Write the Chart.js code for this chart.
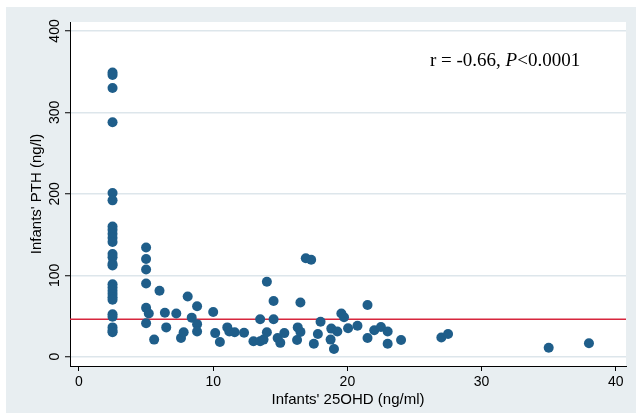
<!DOCTYPE html>
<html><head><meta charset="utf-8">
<script src="https://cdn.jsdelivr.net/npm/chart.js@4.4.0/dist/chart.umd.min.js"></script>
<style>html,body{margin:0;padding:0;background:#fff;}</style>
</head><body>
<canvas id="c" width="636" height="418"></canvas>
<script>
// ---- data ----
const xValues = [
  2.5,2.5,2.5,2.5,2.5,2.5,2.5,2.5,2.5,2.5,2.5,2.5,2.5,2.5,2.5,2.5,2.5,2.5,2.5,2.5,2.5,2.5,2.5,2.5,2.5,2.5,
  5.0,5.0,5.0,5.0,5.0,5.0,5.2,5.6,6.0,6.4,6.5,7.25,7.6,7.8,8.1,8.4,8.8,8.8,8.8,
  10.0,10.15,10.5,11.05,11.2,11.6,12.3,13.0,13.5,13.75,13.5,14.0,14.0,14.5,14.5,14.8,15.0,15.3,
  16.25,16.3,16.5,16.5,16.9,17.3,17.5,17.8,18.0,18.75,18.8,19.0,19.25,19.55,19.75,20.05,20.75,
  21.5,21.5,22.0,22.5,23.0,23.0,24.0,27.0,27.5,35.0,38.0
];
const yValues = [
  349,346,330,288,201,192,160,156,151,146,141,126,122,114,112,89,85,81,77,73,70,52,49,36,32,30,
  134,120,107,90,60,41,53,21,81,54,36,53,23,30,74,48,62,40,31,
  55,29,18,36,31,30,29.5,19,19,21,46,92,30,68.5,46,23,17,29,
  20.5,36,30.5,66.5,121,119,16,28,43,21,34.5,9.5,31,53,48.5,35,38,
  63.5,23,32.5,36.5,31,16,20.5,23.5,28,11,16.5
];
const xTicks = [0, 10, 20, 30, 40];
const yTicks = [0, 100, 200, 300, 400];
const refLineValue = 46;
const xTitle = "Infants' 25OHD (ng/ml)";
const yTitle = "Infants' PTH (ng/l)";
const noteParts = [["r = -0.66, ", false], ["P", true], ["<0.0001", false]];

const SANS = '"Liberation Sans", Arial, sans-serif';
const SERIF = '"Liberation Serif", "Times New Roman", serif';

const bgPlugin = {
  id: 'bg',
  beforeDraw(chart) {
    const {ctx, chartArea: a} = chart;
    ctx.save();
    ctx.fillStyle = '#e8eef1';
    ctx.fillRect(6, 7, 630, 406);
    ctx.fillStyle = '#ffffff';
    ctx.fillRect(a.left, a.top, a.right - a.left, a.bottom - a.top);
    ctx.restore();
  },
  beforeDatasetsDraw(chart) {
    const {ctx, chartArea: a, scales} = chart;
    const y = scales.y.getPixelForValue(refLineValue);
    ctx.save();
    ctx.strokeStyle = '#d7263d';
    ctx.lineWidth = 1.5;
    ctx.beginPath();
    ctx.moveTo(a.left, y);
    ctx.lineTo(a.right, y);
    ctx.stroke();
    ctx.restore();
  },
  afterDraw(chart) {
    const {ctx, scales} = chart;
    ctx.save();
    ctx.fillStyle = '#000';
    ctx.font = '14px ' + SANS;
    ctx.textAlign = 'center';
    ctx.textBaseline = 'alphabetic';
    yTicks.forEach(v => {
      const py = scales.y.getPixelForValue(v);
      ctx.save();
      ctx.translate(59, py);
      ctx.rotate(-Math.PI / 2);
      ctx.fillText(String(v), 0, 0);
      ctx.restore();
    });
    // annotation
    ctx.textAlign = 'left';
    let x = 430;
    noteParts.forEach(([t, it]) => {
      ctx.font = (it ? 'italic ' : '') + '19px ' + SERIF;
      ctx.fillText(t, x, 66);
      x += ctx.measureText(t).width;
    });
    ctx.restore();
  }
};

new Chart(document.getElementById('c'), {
  type: 'scatter',
  data: {
    datasets: [{
      data: xValues.map((x, i) => ({x, y: yValues[i]})),
      backgroundColor: '#1f5e8a',
      borderColor: '#1f5e8a',
      borderWidth: 0,
      pointRadius: 5,
      pointHoverRadius: 5
    }]
  },
  options: {
    responsive: false,
    animation: false,
    devicePixelRatio: 1,
    layout: {padding: {left: 0, right: 10, top: 22, bottom: 0}},
    plugins: {legend: {display: false}, tooltip: {enabled: false}},
    scales: {
      x: {
        type: 'linear',
        min: -0.67, max: 40.76,
        afterBuildTicks: s => { s.ticks = xTicks.map(v => ({value: v})); },
        afterFit: s => { s.height = 52; },
        grid: {drawOnChartArea: false, drawTicks: true, tickLength: 5, tickColor: '#000', tickWidth: 1},
        border: {color: '#000', width: 1},
        ticks: {color: '#000', font: {family: SANS, size: 14}, padding: 3, maxRotation: 0, autoSkip: false},
        title: {display: true, text: xTitle, color: '#000', font: {family: SANS, size: 15}, padding: {top: 0, bottom: 9}}
      },
      y: {
        type: 'linear',
        min: -11.4, max: 411,
        afterBuildTicks: s => { s.ticks = yTicks.map(v => ({value: v})); },
        afterFit: s => { s.width = 70; },
        grid: {color: '#dde6eb', lineWidth: 1.5, drawTicks: true, tickLength: 5, tickColor: '#000', tickWidth: 1},
        border: {color: '#000', width: 1},
        ticks: {display: false},
        title: {display: true, text: yTitle, color: '#000', font: {family: SANS, size: 15}, padding: {top: 28, bottom: 0}}
      }
    }
  },
  plugins: [bgPlugin]
});
</script>
</body></html>
